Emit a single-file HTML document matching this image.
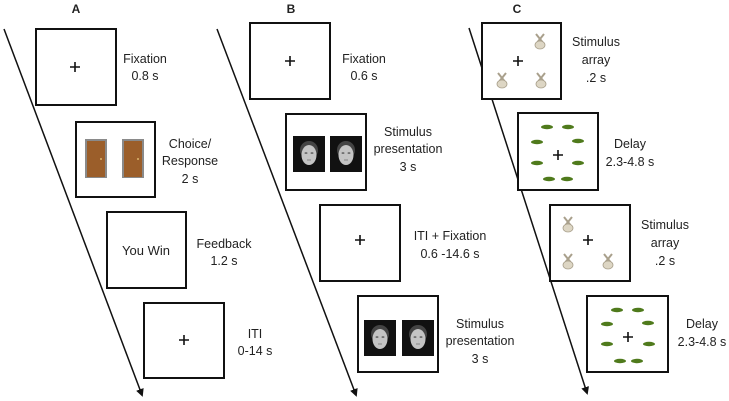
<!DOCTYPE html>
<html><head><style>
html,body{margin:0;padding:0;background:#fff;}
svg{display:block;}
text{font-family:"Liberation Sans",sans-serif;font-size:12.5px;fill:#222;}
</style></head><body>
<svg width="729" height="401" viewBox="0 0 729 401" xmlns="http://www.w3.org/2000/svg">
<defs>
<marker id="ah" markerWidth="8" markerHeight="8" refX="6" refY="4" orient="auto" markerUnits="userSpaceOnUse">
<path d="M0,0 L8,4 L0,8 Z" fill="#111"/></marker>
<g id="cross"><path d="M-5,0H5M0,-5V5" stroke="#111" stroke-width="1.6"/></g>
<g id="bunny"><path d="M-4,-8 L4,2 M4,-8 L-4,2" stroke="#a9a08c" stroke-width="2"/><ellipse cx="0" cy="3" rx="5" ry="4" fill="#ddd6c4" stroke="#a9a08c" stroke-width="0.8"/></g>
<ellipse id="blob" rx="6" ry="2.2" fill="#4f7a1c"/>
<g id="door"><rect x="0" y="0" width="22" height="39" fill="#8a8a8a"/><rect x="2" y="2" width="18" height="36" fill="#9b5e2a"/><circle cx="16" cy="20" r="0.9" fill="#f0d080"/></g>
<g id="face"><rect x="0" y="0" width="32" height="36" fill="#111"/><ellipse cx="16" cy="14" rx="9" ry="9" fill="#444"/><ellipse cx="16" cy="19" rx="7.5" ry="10" fill="#c4c4c4"/><ellipse cx="13" cy="17" rx="1.5" ry="0.8" fill="#555"/><ellipse cx="19" cy="17" rx="1.5" ry="0.8" fill="#555"/><path d="M14,24 H18" stroke="#777" stroke-width="0.8"/></g>
</defs>
<g fill="none" stroke="#111" stroke-width="1.5">
<line x1="4" y1="29" x2="142" y2="395" marker-end="url(#ah)"/>
<line x1="217" y1="29" x2="356" y2="395" marker-end="url(#ah)"/>
<line x1="469" y1="28" x2="587" y2="393" marker-end="url(#ah)"/>
</g>
<g fill="#fff" stroke="#111" stroke-width="2">
<rect x="36" y="29" width="80" height="76"/>
<rect x="76" y="122" width="79" height="75"/>
<rect x="107" y="212" width="79" height="76"/>
<rect x="144" y="303" width="80" height="75"/>
<rect x="250" y="23" width="80" height="76"/>
<rect x="286" y="114" width="80" height="76"/>
<rect x="320" y="205" width="80" height="76"/>
<rect x="358" y="296" width="80" height="76"/>
<rect x="482" y="23" width="79" height="76"/>
<rect x="518" y="113" width="80" height="77"/>
<rect x="550" y="205" width="80" height="76"/>
<rect x="587" y="296" width="81" height="76"/>
</g>
<use href="#cross" x="75" y="67"/>
<use href="#cross" x="184" y="340"/>
<use href="#cross" x="290" y="61"/>
<use href="#cross" x="360" y="240"/>
<use href="#cross" x="518" y="61"/>
<use href="#cross" x="558" y="155"/>
<use href="#cross" x="588" y="240"/>
<use href="#cross" x="628" y="337"/>
<use href="#door" x="85" y="139"/><use href="#door" x="122" y="139"/>
<use href="#face" x="293" y="136"/><use href="#face" x="330" y="136"/>
<use href="#face" x="364" y="320"/><use href="#face" x="402" y="320"/>
<use href="#bunny" x="540" y="42"/><use href="#bunny" x="502" y="81"/><use href="#bunny" x="541" y="81"/>
<use href="#bunny" x="568" y="225"/><use href="#bunny" x="568" y="262"/><use href="#bunny" x="608" y="262"/>
<g>
<use href="#blob" x="547" y="127"/><use href="#blob" x="568" y="127"/><use href="#blob" x="537" y="142"/><use href="#blob" x="578" y="141"/><use href="#blob" x="537" y="163"/><use href="#blob" x="578" y="163"/><use href="#blob" x="549" y="179"/><use href="#blob" x="567" y="179"/>
<use href="#blob" x="617" y="310"/><use href="#blob" x="638" y="310"/><use href="#blob" x="607" y="324"/><use href="#blob" x="648" y="323"/><use href="#blob" x="607" y="344"/><use href="#blob" x="649" y="344"/><use href="#blob" x="620" y="361"/><use href="#blob" x="637" y="361"/>
</g>
<g text-anchor="middle">
<text x="76" y="13" style="font-weight:bold;font-size:12px">A</text>
<text x="291" y="13" style="font-weight:bold;font-size:12px">B</text>
<text x="517" y="13" style="font-weight:bold;font-size:12px">C</text>
<text x="145" y="63">Fixation</text><text x="145" y="80">0.8 s</text>
<text x="190" y="148">Choice/</text><text x="190" y="165">Response</text><text x="190" y="183">2 s</text>
<text x="224" y="248">Feedback</text><text x="224" y="265">1.2 s</text>
<text x="255" y="338">ITI</text><text x="255" y="355">0-14 s</text>
<text x="146" y="255" style="font-size:13px">You Win</text>
<text x="364" y="63">Fixation</text><text x="364" y="80">0.6 s</text>
<text x="408" y="136">Stimulus</text><text x="408" y="153">presentation</text><text x="408" y="171">3 s</text>
<text x="450" y="240">ITI + Fixation</text><text x="450" y="258">0.6 -14.6 s</text>
<text x="480" y="328">Stimulus</text><text x="480" y="345">presentation</text><text x="480" y="363">3 s</text>
<text x="596" y="46">Stimulus</text><text x="596" y="64">array</text><text x="596" y="82">.2 s</text>
<text x="630" y="148">Delay</text><text x="630" y="166">2.3-4.8 s</text>
<text x="665" y="229">Stimulus</text><text x="665" y="247">array</text><text x="665" y="265">.2 s</text>
<text x="702" y="328">Delay</text><text x="702" y="346">2.3-4.8 s</text>
</g>
</svg>
</body></html>
